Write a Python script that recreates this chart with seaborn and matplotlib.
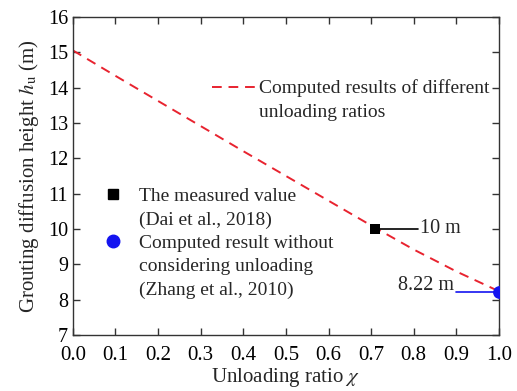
import matplotlib
matplotlib.use("Agg")
import matplotlib.pyplot as plt
from matplotlib.lines import Line2D
import seaborn as sns
import numpy as np

# ---- data ----
ratio = [0.0, 0.1, 0.2, 0.3, 0.4, 0.5, 0.6, 0.7, 0.8, 0.9, 1.0]
height = [15.05, 14.33, 13.62, 12.91, 12.20, 11.50, 10.80, 10.10, 9.42, 8.80, 8.24]
measured_x = [0.71]
measured_y = [10.0]
zhang_x = [1.0]
zhang_y = [8.22]
x_ticks = [0.0, 0.1, 0.2, 0.3, 0.4, 0.5, 0.6, 0.7, 0.8, 0.9, 1.0]
y_ticks = [7, 8, 9, 10, 11, 12, 13, 14, 15, 16]

RED = "#e8232f"
BLUE = "#1414f0"

sns.set_style("ticks")
plt.rcParams["font.family"] = ["Liberation Serif", "DejaVu Serif"]
plt.rcParams["mathtext.fontset"] = "stix"

fig = plt.figure(figsize=(5.17, 3.91), dpi=100)
ax = fig.add_axes([0.141, 0.143, 0.824, 0.814])

sns.lineplot(x=ratio, y=height, ax=ax, color=RED, linewidth=1.4,
             linestyle=(0, (5, 3.5)), legend=False)
sns.scatterplot(x=measured_x, y=measured_y, ax=ax, marker="s", color="black",
                s=50, edgecolor="black", linewidth=0, zorder=5, legend=False)
sns.scatterplot(x=zhang_x, y=zhang_y, ax=ax, marker="o", color=BLUE,
                s=85, edgecolor=BLUE, linewidth=0, zorder=5, legend=False)

# annotation leader lines and labels
ax.plot([measured_x[0], measured_x[0] + 0.10], [measured_y[0]] * 2,
        color="black", linewidth=1.2, zorder=4)
ax.text(measured_x[0] + 0.105, measured_y[0], "10 m", fontsize=14.5,
        va="center", ha="left")
ax.plot([zhang_x[0] - 0.10, zhang_x[0]], [zhang_y[0]] * 2,
        color=BLUE, linewidth=1.2, zorder=4)
ax.text(zhang_x[0] - 0.105, zhang_y[0] + 0.17, "8.22 m", fontsize=14.5,
        va="center", ha="right")

ax.set_xlim(0, 1.0)
ax.set_ylim(7, 16)
ax.set_xticks(x_ticks)
ax.set_xticklabels([f"{t:.1f}" for t in x_ticks])
ax.set_yticks(y_ticks)
ax.tick_params(direction="in", top=True, right=True, length=5, width=1,
               labelsize=15, colors="#333333", labelcolor="black")
ax.tick_params(axis="x", pad=7.5)
ax.tick_params(axis="y", labelsize=14.5)
for sp in ax.spines.values():
    sp.set_color("#333333")
    sp.set_linewidth(1.0)

ax.set_xlabel(r"Unloading ratio $\chi$", fontsize=15, labelpad=1)
ax.set_ylabel(r"Grouting diffusion height $h_\mathrm{u}$ (m)", fontsize=15,
              labelpad=5)

blank = Line2D([], [], linestyle="none")
# legend 1: computed line
h1 = Line2D([], [], color=RED, linewidth=1.4, linestyle=(0, (5, 3.5)))
leg1 = ax.legend([h1, blank], ["Computed results of different", "unloading ratios"],
                 loc="center left", bbox_to_anchor=(0.410, 0.744),
                 bbox_transform=fig.transFigure, frameon=False, fontsize=14,
                 handlelength=2.4, handletextpad=0.0, borderpad=0,
                 borderaxespad=0, labelspacing=0.3)
ax.add_artist(leg1)

# legend 2: markers
hs = Line2D([], [], marker="s", color="black", linestyle="none", markersize=7)
hc = Line2D([], [], marker="o", color=BLUE, linestyle="none", markersize=9)
leg2 = ax.legend([hs, blank, hc, blank, blank],
                 ["The measured value", "(Dai et al., 2018)",
                  "Computed result without", "considering unloading",
                  "(Zhang et al., 2010)"],
                 loc="center left", bbox_to_anchor=(0.1998, 0.378),
                 bbox_transform=fig.transFigure, frameon=False, fontsize=14,
                 handlelength=1.0, handletextpad=0.85, borderpad=0,
                 borderaxespad=0, labelspacing=0.3)

fig.savefig("out.png", dpi=100)
